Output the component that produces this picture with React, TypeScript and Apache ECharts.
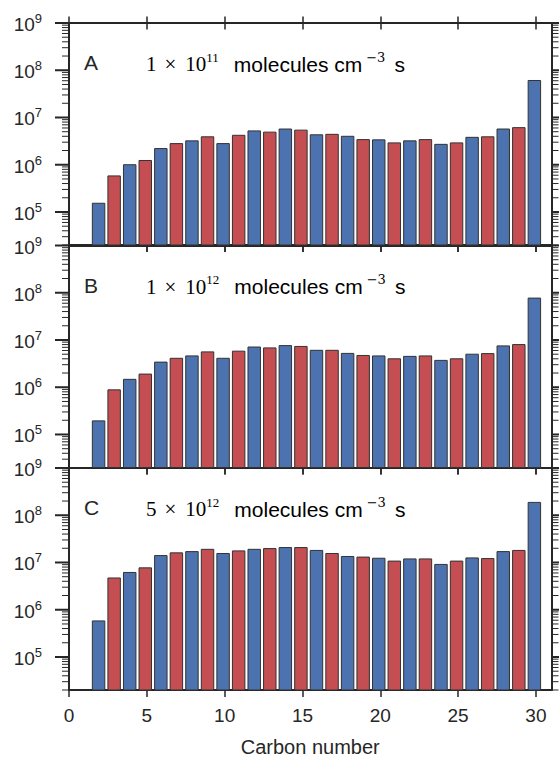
import React, { useEffect, useRef } from "react";
import * as echarts from "echarts";

// ---- data ----
const carbonNumbers = [2, 3, 4, 5, 6, 7, 8, 9, 10, 11, 12, 13, 14, 15, 16, 17, 18, 19, 20, 21, 22, 23, 24, 25, 26, 27, 28, 29, 30];
const panelA = [1.53e5, 5.8e5, 1.0e6, 1.23e6, 2.2e6, 2.8e6, 3.2e6, 3.9e6, 2.8e6, 4.2e6, 5.2e6, 4.9e6, 5.7e6, 5.4e6, 4.3e6, 4.4e6, 4.0e6, 3.4e6, 3.36e6, 2.9e6, 3.2e6, 3.4e6, 2.7e6, 2.9e6, 3.8e6, 3.9e6, 5.7e6, 6.1e6, 6.07e7];
const panelB = [1.94e5, 8.8e5, 1.47e6, 1.9e6, 3.4e6, 4.1e6, 4.6e6, 5.6e6, 4.1e6, 5.8e6, 7.1e6, 6.8e6, 7.6e6, 7.3e6, 6.05e6, 6.05e6, 5.2e6, 4.7e6, 4.6e6, 4.0e6, 4.5e6, 4.6e6, 3.7e6, 4.0e6, 5.0e6, 5.15e6, 7.5e6, 8.0e6, 7.7e7];
const panelC = [5.8e5, 4.7e6, 6.15e6, 7.7e6, 1.4e7, 1.6e7, 1.7e7, 1.9e7, 1.55e7, 1.76e7, 1.9e7, 1.97e7, 2.07e7, 2.07e7, 1.8e7, 1.55e7, 1.34e7, 1.3e7, 1.23e7, 1.07e7, 1.19e7, 1.19e7, 9.1e6, 1.07e7, 1.25e7, 1.21e7, 1.7e7, 1.8e7, 1.87e8];
const panelLetters = ["A", "B", "C"];
const doseMantissas = ["1", "1", "5"];
const doseExponents = ["11", "12", "12"];
const xTicks = [0, 5, 10, 15, 20, 25, 30];
const yMajorExponents = [5, 6, 7, 8, 9];
const yMinorMultipliers = [2, 3, 4, 5, 6, 7, 8, 9];
const yMinorDecades = [4, 5, 6, 7, 8];
const X_MIN = 0;
const X_MAX = 31;
const Y_MIN = 2e4;
const Y_MAX = 1e9;

const panels = [panelA, panelB, panelC];

const BLUE = "#4C72B0";
const RED = "#C44E52";
const AX = "#262626";
const SANS = "Liberation Sans";
const SERIF = "Liberation Serif";

const GRID_LEFT = 69;
const GRID_WIDTH = 482.5;
const GRID_TOPS = [23, 245.5, 468];
const GRID_H = 222;

export default function App() {
  const ref = useRef<HTMLDivElement>(null);

  useEffect(() => {
    if (!ref.current) return;
    const chart = echarts.init(ref.current, undefined, { renderer: "svg" });

    const lmin = Math.log10(Y_MIN);
    const lmax = Math.log10(Y_MAX);
    const majorValues = yMajorExponents.map((e) => Math.pow(10, e));
    const minorValues: number[] = [];
    yMinorDecades.forEach((d) => {
      yMinorMultipliers.forEach((m) => {
        const v = m * Math.pow(10, d);
        if (v >= Y_MIN && v <= Y_MAX) minorValues.push(v);
      });
    });
    const tickData = [
      ...majorValues.map((v) => [X_MIN, v, 1]),
      ...minorValues.map((v) => [X_MIN, v, 0]),
    ];

    const grids = GRID_TOPS.map((t) => ({ left: GRID_LEFT, top: t, width: GRID_WIDTH, height: GRID_H }));

    const xAxes: any[] = [];
    const yAxes: any[] = [];
    const series: any[] = [];
    const graphics: any[] = [];

    const baseLine = { show: true, onZero: false, lineStyle: { color: AX, width: 2 } };

    GRID_TOPS.forEach((top, i) => {
      // bottom axis, outward ticks
      xAxes.push({
        type: "value",
        gridIndex: i,
        min: X_MIN,
        max: X_MAX,
        position: "bottom",
        axisLine: baseLine,
        axisTick: { show: true, inside: false, length: 7, lineStyle: { color: AX, width: 1.5 }, customValues: xTicks },
        axisLabel: {
          show: i === 2,
          customValues: xTicks,
          color: AX,
          fontFamily: SANS,
          fontSize: 19,
          margin: 16,
        },
        splitLine: { show: false },
        name: i === 2 ? "Carbon number" : "",
        nameLocation: "middle",
        nameGap: 47,
        nameTextStyle: { color: AX, fontFamily: SANS, fontSize: 20 },
      });
      // top axis, inward ticks
      xAxes.push({
        type: "value",
        gridIndex: i,
        min: X_MIN,
        max: X_MAX,
        position: "top",
        axisLine: baseLine,
        axisTick: { show: true, inside: true, length: 6.5, lineStyle: { color: AX, width: 1.5 }, customValues: xTicks },
        axisLabel: { show: false },
        splitLine: { show: false },
      });
      // top axis, outward ticks
      xAxes.push({
        type: "value",
        gridIndex: i,
        min: X_MIN,
        max: X_MAX,
        position: "top",
        axisLine: baseLine,
        axisTick: { show: true, inside: false, length: 6.5, lineStyle: { color: AX, width: 1.5 }, customValues: xTicks },
        axisLabel: { show: false },
        splitLine: { show: false },
      });

      // log axis carrying the data
      yAxes.push({
        type: "log",
        logBase: 10,
        gridIndex: i,
        min: Y_MIN,
        max: Y_MAX,
        position: "left",
        show: false,
        splitLine: { show: false },
      });
      // left labelled axis (exponent scale, same extent)
      yAxes.push({
        type: "value",
        gridIndex: i,
        min: lmin,
        max: lmax,
        position: "left",
        axisLine: baseLine,
        axisTick: { show: false },
        axisLabel: {
          show: true,
          customValues: yMajorExponents,
          margin: 27,
          formatter: (v: number) => `{b|10}{s|${Math.round(v)}}`,
          rich: {
            b: { fontFamily: SANS, fontSize: 19, color: AX, lineHeight: 22, verticalAlign: "bottom" },
            s: { fontFamily: SANS, fontSize: 13, color: AX, lineHeight: 10, verticalAlign: "top" },
          },
        },
        splitLine: { show: false },
      });
      // right axis line
      yAxes.push({
        type: "value",
        gridIndex: i,
        min: lmin,
        max: lmax,
        position: "right",
        axisLine: baseLine,
        axisTick: { show: false },
        axisLabel: { show: false },
        splitLine: { show: false },
      });

      // bars
      series.push({
        type: "custom",
        xAxisIndex: i * 3,
        yAxisIndex: i * 3,
        coordinateSystem: "cartesian2d",
        encode: { x: 0, y: 1 },
        data: carbonNumbers.map((c, k) => [c, panels[i][k]]),
        renderItem: (params: any, api: any) => {
          const c = api.value(0);
          const v = api.value(1);
          const p0 = api.coord([c - 0.5, v]);
          const p1 = api.coord([c + 0.3, Y_MIN]);
          return {
            type: "rect",
            shape: { x: p0[0], y: p0[1], width: p1[0] - p0[0], height: p1[1] - p0[1] },
            style: { fill: c % 2 === 0 ? BLUE : RED, stroke: "#333333", lineWidth: 1 },
          };
        },
        z: 2,
      });

      // log-axis major and minor ticks, left and right, placed through the log scale
      series.push({
        type: "custom",
        xAxisIndex: i * 3,
        yAxisIndex: i * 3,
        coordinateSystem: "cartesian2d",
        clip: false,
        silent: true,
        encode: { x: 0, y: 1 },
        data: tickData,
        renderItem: (params: any, api: any) => {
          const v = api.value(1);
          const major = api.value(2) > 0.5;
          const p = api.coord([X_MIN, v]);
          const q = api.coord([X_MAX, v]);
          const len = major ? 14 : 7;
          const h = major ? 2 : 1;
          return {
            type: "group",
            children: [
              { type: "rect", shape: { x: p[0] - len, y: p[1] - h / 2, width: len, height: h }, style: { fill: AX } },
              { type: "rect", shape: { x: q[0], y: q[1] - h / 2, width: len, height: h }, style: { fill: AX } },
            ],
          };
        },
        z: 5,
      });

      const cy = top + 39.5;
      graphics.push({
        type: "text",
        x: 84,
        y: cy,
        style: { text: panelLetters[i], fontFamily: SANS, fontSize: 21, fill: AX, verticalAlign: "middle", align: "left" },
      });
      graphics.push({
        type: "text",
        x: 146,
        y: cy,
        style: {
          text: `{m|${doseMantissas[i]}}{x|×}{m|10}{s|${doseExponents[i]}}{t|molecules cm}{sm|−3}{t2|s}`,
          verticalAlign: "middle",
          align: "left",
          rich: {
            m: { fontFamily: SERIF, fontSize: 21, color: AX, lineHeight: 24, verticalAlign: "bottom" },
            x: { fontFamily: SERIF, fontSize: 21, color: AX, lineHeight: 24, verticalAlign: "bottom", padding: [0, 9, 0, 8] },
            s: { fontFamily: SERIF, fontSize: 13, color: AX, lineHeight: 12, verticalAlign: "top" },
            t: { fontFamily: SANS, fontSize: 21, color: AX, lineHeight: 24, verticalAlign: "bottom", padding: [0, 4, 0, 15] },
            sm: { fontFamily: "DejaVu Serif", fontSize: 13, color: AX, lineHeight: 12, verticalAlign: "top" },
            t2: { fontFamily: SANS, fontSize: 21, color: AX, lineHeight: 24, verticalAlign: "bottom", padding: [0, 0, 0, 9] },
          },
        },
      });
    });

    chart.setOption({
      animation: false,
      backgroundColor: "#ffffff",
      grid: grids,
      xAxis: xAxes,
      yAxis: yAxes,
      series,
      graphic: graphics,
    });

    return () => chart.dispose();
  }, []);

  return <div ref={ref} style={{ position: "fixed", left: 0, top: 0, width: 559, height: 759 }} />;
}
